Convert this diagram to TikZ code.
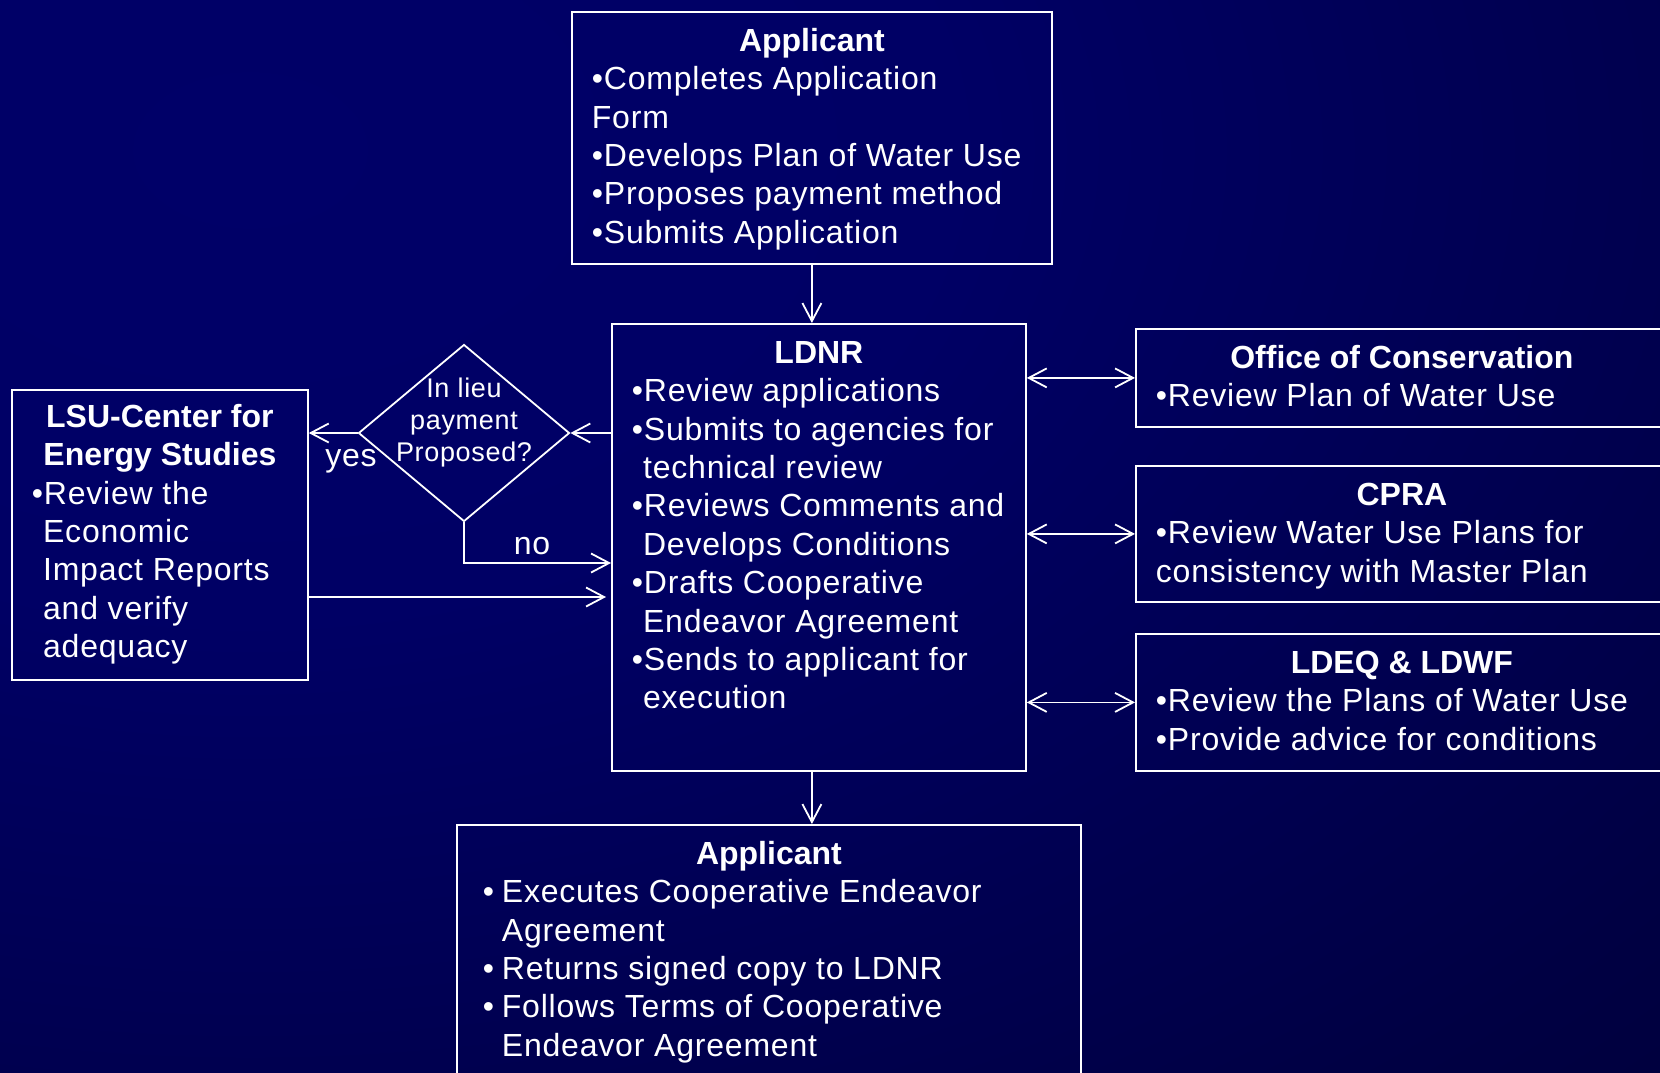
\documentclass[tikz,border=0pt]{standalone}
\usepackage{fontspec}
\setmainfont{Liberation Sans}[UprightFeatures={LetterSpace=2.5}]
\usetikzlibrary{arrows.meta}
\usetikzlibrary{shapes.geometric}

\definecolor{bgA}{RGB}{0,0,104}
\definecolor{bgB}{RGB}{0,0,101}
\definecolor{bgC}{RGB}{0,0,85}
\definecolor{bgD}{RGB}{0,0,67}
\definecolor{bgE}{RGB}{0,0,48}
\definecolor{bgF}{RGB}{0,0,40}
\pgfdeclareradialshading{slidebg}{\pgfpoint{0bp}{0bp}}{%
  color(0bp)=(bgA); color(11bp)=(bgB); color(19bp)=(bgC); color(28bp)=(bgD);
  color(41bp)=(bgE); color(47bp)=(bgF); color(50bp)=(bgF)}

\newcommand{\bodyfont}{\fontsize{16}{19.2}\selectfont}
\newcommand{\askfont}{\fontsize{13.5}{16}\selectfont}
\newcommand{\panelbody}[3]{\parbox[t][#2][t]{#1}{\raggedright #3}}
\newcommand{\head}[2][13.7pt]{{\centering\bfseries\rule{0pt}{#1}#2\par}}
\newcommand{\ind}{\hphantom{•}}
\newcommand{\dotitem}{\hspace*{3pt}\makebox[9.5pt][l]{•}}
\newcommand{\dotgap}{\hspace*{12.5pt}}

\tikzset{
  flowtip/.tip={Straight Barb[length=9pt,width=9.5pt]},
  panel/.style={draw=white, line width=0.9pt, anchor=north west,
    inner xsep=10pt, inner ysep=6pt, text=white, font=\bodyfont},
  ask/.style={diamond, draw=white, line width=0.9pt, inner sep=0pt,
    minimum width=105.5pt, minimum height=88.5pt},
  link/.style={draw=white, line width=0.9pt, -flowtip},
  twoway/.style={link, flowtip-flowtip},
  tag/.style={text=white, font=\bodyfont, inner sep=0pt}
}

\begin{document}
\begin{tikzpicture}[x=0.5pt, y=-0.5pt]
   \useasboundingbox (0,0) rectangle (1660,1072);
   \clip (0,0) rectangle (1660,1072);
   % background, brightest towards the upper left
   \shade[shading=slidebg] (-1350,-917) rectangle (1850,1217);

   % boxes
   \node[panel] (appA) at (571,11) {\panelbody{220pt}{114pt}{\head{Applicant}
      •Completes Application\\Form\\•Develops Plan of Water Use\\
      •Proposes payment method\\•Submits Application}};
   \node[panel] (ldnr) at (611,323) {\panelbody{187pt}{211.5pt}{\head{LDNR}
      •Review applications\\•Submits to agencies for\\\ind technical review\\
      •Reviews Comments and\\\ind Develops Conditions\\•Drafts Cooperative\\
      \ind Endeavor Agreement\\•Sends to applicant for\\\ind execution}};
   \node[panel] (ooc) at (1135,328) {\panelbody{246pt}{37pt}{\head{Office of Conservation}
      •Review Plan of Water Use}};
   \node[panel] (cpra) at (1135,465) {\panelbody{246pt}{56pt}{\head{CPRA}
      •Review Water Use Plans for\\consistency with Master Plan}};
   \node[panel] (ldeq) at (1135,633) {\panelbody{246pt}{56.5pt}{\head{LDEQ \& LDWF}
      •Review the Plans of Water Use\\•Provide advice for conditions}};
   \node[panel] (lsu) at (11,389) {\panelbody{128pt}{133pt}{\head[12.7pt]{LSU-Center for\\Energy Studies}
      •Review the\\\ind Economic\\\ind Impact Reports\\\ind and verify\\\ind adequacy}};
   \node[panel] (appB) at (456,824) {\panelbody{292pt}{126pt}{\head{Applicant}
      \dotitem Executes Cooperative Endeavor\\\dotgap Agreement\\
      \dotitem Returns signed copy to LDNR\\\dotitem Follows Terms of Cooperative\\
      \dotgap Endeavor Agreement}};

   % decision
   \node[ask, label={[name=asktext, text=white, font=\askfont, align=center, yshift=5pt]center:In lieu\\payment\\Proposed?}] (query) at (464,433) {};
   \coordinate (noturn) at (464,563);
   \coordinate (backrow) at (0,597);

   % connectors
   \draw[link] (appA.south) -- (appA.south |- ldnr.north);
   \draw[link] (ldnr.south -| appA.south) -- (appB.north -| appA.south);
   \draw[link] (ldnr.west |- query.east) -- (query.east);
   \draw[link] (query.west) -- (query.west -| lsu.east);
   \draw[link] (query.south) -- (noturn) -- (noturn -| ldnr.west);
   \draw[link, shorten >=2.5pt] (lsu.east |- backrow) -- (ldnr.west |- backrow);
   \draw[twoway] (ooc.west -| ldnr.east) -- (ooc.west);
   \draw[twoway] (cpra.west -| ldnr.east) -- (cpra.west);
   \draw[twoway] (ldeq.west -| ldnr.east) -- (ldeq.west);

   % branch labels
   \node[tag] (yeslbl) at (351,461) {yes};
   \node[tag] (nolbl) at (532,546) {no};
\end{tikzpicture}
\end{document}
